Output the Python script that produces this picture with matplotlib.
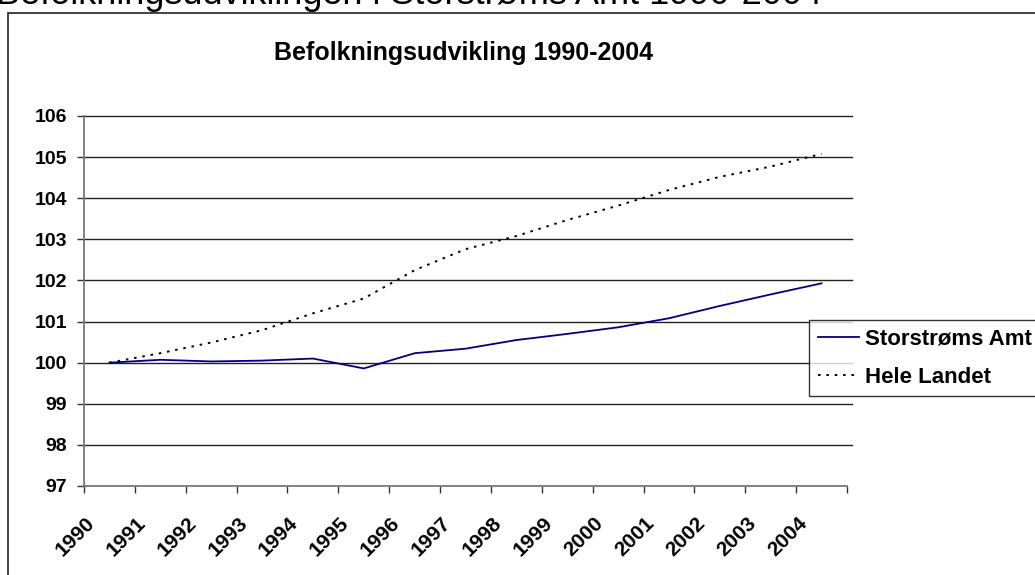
"""Befolkningsudvikling 1990-2004: Storstrøms Amt mod hele landet (indeks 1990 = 100)."""

import matplotlib

matplotlib.use("Agg")

import matplotlib.pyplot as plt
import matplotlib.transforms as mtransforms
from matplotlib.patches import Rectangle
import numpy as np


W_PX, H_PX = 1035, 575
DPI = 100

YEARS = ["1990", "1991", "1992", "1993", "1994", "1995", "1996", "1997",
         "1998", "1999", "2000", "2001", "2002", "2003", "2004"]
STORSTROEMS = [100.0, 100.07, 100.03, 100.05, 100.1, 99.86, 100.23, 100.34,
               100.55, 100.7, 100.86, 101.08, 101.38, 101.66, 101.93]
HELE_LANDET = [100.0, 100.23, 100.49, 100.79, 101.2, 101.56, 102.25, 102.76,
               103.08, 103.47, 103.82, 104.2, 104.52, 104.77, 105.08]
Y_TICKS = [97, 98, 99, 100, 101, 102, 103, 104, 105, 106]

FONT = ["Liberation Sans", "DejaVu Sans"]


def fx(px):
    return px / W_PX


def fy(px):
    return 1 - px / H_PX


def main():
    plt.rcParams["font.family"] = FONT
    fig = plt.figure(figsize=(W_PX / DPI, H_PX / DPI), dpi=DPI)

    # afskåret overskrift øverst og diagramrammen
    fig.text(fx(-4), fy(3.5), "Befolkningsudviklingen i Storstrøms Amt 1990-2004",
             fontsize=26, ha="left", va="baseline", color="black")
    fig.patches.append(Rectangle((fx(8), fy(H_PX + 20)), 1.2, fy(13) - fy(H_PX + 20),
                                 transform=fig.transFigure, fill=False,
                                 edgecolor="#333333", linewidth=1.3))

    ax = fig.add_axes([fx(84), fy(486), fx(847) - fx(84), fy(116) - fy(486)])
    x = np.arange(len(YEARS))

    for y in Y_TICKS[1:]:
        ax.axhline(y, xmin=0, xmax=1.006, color="#222222", linewidth=1.0,
                   clip_on=False, zorder=1)

    ax.plot(x, STORSTROEMS, color="#000080", linewidth=1.3, label="Storstrøms Amt", zorder=3)
    ax.plot(x, HELE_LANDET, color="black", linewidth=1.4, linestyle=(0, (1.3, 3.0)),
            label="Hele Landet", zorder=3)

    ax.set_xlim(-0.5, len(YEARS) - 0.5)
    ax.set_ylim(97, 106)
    ax.set_yticks(Y_TICKS)
    ax.set_yticklabels([str(v) for v in Y_TICKS], fontsize=14, fontweight="bold")
    ax.tick_params(axis="y", direction="out", length=5, width=1, color="#333333", pad=7)

    # kategoriakse: streger mellem årene, etiketter midt i
    ax.set_xticks(np.arange(-0.5, len(YEARS)), minor=True)
    ax.set_xticks(x)
    ax.set_xticklabels(YEARS, fontsize=15, fontweight="bold", rotation=45,
                       ha="right", va="top")
    ax.tick_params(axis="x", which="major", length=0, pad=20)
    ax.tick_params(axis="x", which="minor", direction="out", length=5, width=1, color="#333333")
    shift = mtransforms.ScaledTranslation(-11 / DPI, 0, fig.dpi_scale_trans)
    for lbl in ax.get_xticklabels():
        lbl.set_transform(lbl.get_transform() + shift)

    for side in ["top", "right"]:
        ax.spines[side].set_visible(False)
    ax.spines["left"].set_color("#777777")
    ax.spines["bottom"].set_color("#777777")
    ax.spines["left"].set_linewidth(1.3)
    ax.spines["bottom"].set_linewidth(1.3)

    fig.text(fx(464), fy(53), "Befolkningsudvikling 1990-2004", fontsize=18,
             fontweight="bold", ha="center", va="center")

    leg = fig.legend(loc="upper left", bbox_to_anchor=(fx(809), fy(320)),
                     bbox_transform=fig.transFigure, frameon=True, fancybox=False,
                     prop={"family": FONT, "weight": "bold", "size": 16},
                     handlelength=1.85, handletextpad=0.25, borderpad=0.4,
                     labelspacing=0.75, borderaxespad=0)
    leg.get_frame().set_edgecolor("black")
    leg.get_frame().set_linewidth(1.0)

    fig.savefig("out.png", dpi=DPI)
    plt.close(fig)


if __name__ == "__main__":
    main()
